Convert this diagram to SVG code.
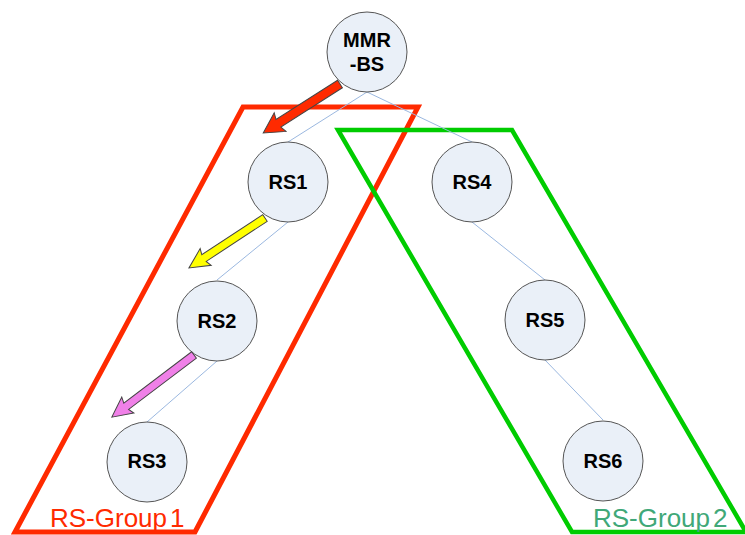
<svg xmlns="http://www.w3.org/2000/svg" width="745" height="535" viewBox="0 0 745 535">
<style>
.node circle{fill:#eaf0f8;stroke:#555;stroke-width:1}
.node text{font-family:"Liberation Sans",Arial,sans-serif;font-weight:bold;font-size:20px;fill:#000;text-anchor:middle}
.link{stroke:#9bb8e0;stroke-width:1;fill:none}
.arrow{stroke:#444;stroke-width:1;stroke-linejoin:miter}
.glabel{font-family:"Liberation Sans",Arial,sans-serif;font-size:26px}
</style>
<rect width="745" height="535" fill="#fff"/>
<g id="group1">
<polygon points="243,107 418,107 195,532 15,532" fill="none" stroke="#ff2a00" stroke-width="5"/>
<text class="glabel" x="50" y="527" fill="#ff2a00">RS-Group<tspan dx="3">1</tspan></text>
</g>
<g id="group2">
<polygon points="338,130 512,130 746,532 572,532" fill="none" stroke="#00cc00" stroke-width="4.5"/>
<text class="glabel" x="593" y="527" fill="#40a878">RS-Group<tspan dx="3">2</tspan></text>
</g>
<g id="connectors">
<line class="link" x1="367" y1="92" x2="288" y2="142"/>
<line class="link" x1="367" y1="92" x2="472" y2="142"/>
<line class="link" x1="288" y1="222" x2="217" y2="280"/>
<line class="link" x1="217" y1="361" x2="147" y2="422"/>
<line class="link" x1="472" y1="222" x2="545" y2="280"/>
<line class="link" x1="545" y1="360" x2="603" y2="420"/>
</g>
<g id="MMR-BS" class="node">
<circle cx="367" cy="52" r="40"/>
<text x="367" y="47">MMR</text>
<text x="367" y="71">-BS</text>
</g>
<g id="RS1" class="node"><circle cx="288" cy="182" r="40"/><text x="288" y="189">RS1</text></g>
<g id="RS2" class="node"><circle cx="217" cy="321" r="40"/><text x="217" y="328">RS2</text></g>
<g id="RS3" class="node"><circle cx="147" cy="462" r="40"/><text x="147" y="468">RS3</text></g>
<g id="RS4" class="node"><circle cx="472" cy="182" r="40"/><text x="472" y="189">RS4</text></g>
<g id="RS5" class="node"><circle cx="545" cy="320" r="40"/><text x="545" y="327">RS5</text></g>
<g id="RS6" class="node"><circle cx="603" cy="461" r="40"/><text x="603" y="468">RS6</text></g>
<g id="arrows">
<polygon class="arrow" fill="#ff2a00" transform="translate(340,84) rotate(147.5)" points="0,-4.5 73,-4.5 71,-11 91,0 71,11 73,4.5 0,4.5"/>
<polygon class="arrow" fill="#ffff00" transform="translate(265,218) rotate(146.7)" points="0,-4 73,-4 71,-10 91,0 71,10 73,4 0,4"/>
<polygon class="arrow" fill="#f080e8" transform="translate(194,355) rotate(142.9)" points="0,-4 85,-4 83,-10 103,0 83,10 85,4 0,4"/>
</g>
</svg>
